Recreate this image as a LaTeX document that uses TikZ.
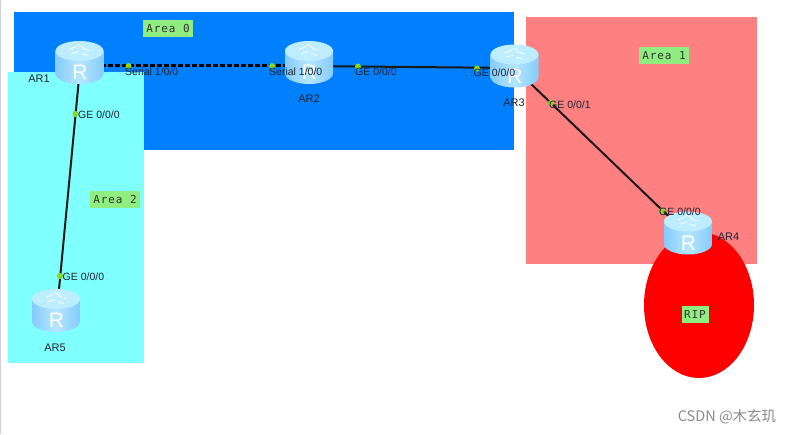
\documentclass[tikz,border=0pt]{standalone}
\usepackage{fontspec}
\setmainfont{Liberation Sans}
\newfontfamily\labelmono[LetterSpace=8]{DejaVu Sans Mono}
\newfontfamily\cjkfont{Noto Sans CJK SC}
\definecolor{areablue}{HTML}{0080FF}
\definecolor{areacyan}{HTML}{80FFFF}
\definecolor{areapink}{HTML}{FF8080}
\definecolor{labelgreen}{HTML}{90EE80}
\definecolor{portgreen}{HTML}{8CD620}
\definecolor{textdark}{HTML}{1C2430}
\definecolor{routerside}{HTML}{86CBFA}
\definecolor{routermid}{HTML}{B4E6FF}
\definecolor{routertop}{HTML}{BCEEFF}
\tikzset{
  x=1pt,y=-1pt,
  areabox/.style={draw=none,inner sep=0pt,anchor=north west},
  routerbox/.style={inner sep=0pt,minimum width=48pt,minimum height=43pt,draw=none},
  arealabel/.style={fill=labelgreen,inner sep=0pt,minimum height=17pt,text=black!80,font=\labelmono\fontsize{11}{12}\selectfont},
  portdot/.style={circle,fill=portgreen,inner sep=0pt,minimum size=6pt},
  portlabel/.style={text=textdark,font=\fontsize{10.5}{11}\selectfont,inner sep=0pt,anchor=west},
  devlabel/.style={text=textdark,font=\fontsize{11}{12}\selectfont,inner sep=0pt},
  linkline/.style={draw=black!90,line width=2pt},
  seriallink/.style={draw=black,line width=2.2pt,dash pattern=on 5pt off 2pt},
}
\newcommand{\routerart}[1]{%
  \begin{scope}[shift={(#1.center)}]
    \path[left color=routerside,right color=routerside,middle color=routermid]
      (-24,-12) -- (24,-12) -- (24,11) arc[start angle=0,end angle=180,x radius=24,y radius=10.5] -- cycle;
    \fill[routertop] (0,-11.5) ellipse[x radius=24,y radius=10];
    \draw[white,line width=1pt,opacity=.85] (-10,-13) -- (-3,-16) (-8,-9) -- (-1,-11) (3,-14) -- (10,-12) (2,-9) -- (8,-7) (-2,-18) -- (4,-15);
    \node[text=white,inner sep=0pt,font=\fontsize{21}{21}\selectfont] (#1art) at (0.5,10) {R};
  \end{scope}}
\begin{document}
\begin{tikzpicture}
\useasboundingbox (0,0) rectangle (792,434);
\fill[white] (0,0) rectangle (792,434);
\fill[gray!70!blue!30] (0,0) rectangle (1.2,434);
% areas
\node[areabox,fill=areablue,minimum width=500pt,minimum height=138pt] (area0) at (14,12) {};
\node[areabox,fill=areacyan,minimum width=136pt,minimum height=291pt] (area2) at (8,72) {};
\node[areabox,fill=areapink,minimum width=231pt,minimum height=247pt] (area1) at (526,17) {};
\fill[red] (699,305) ellipse[x radius=55,y radius=73];
% routers (anchors)
\node[routerbox] (ar1) at (79.5,62.5) {};
\node[routerbox] (ar2) at (309,62.5) {};
\node[routerbox] (ar3) at (514.5,66) {};
\node[routerbox] (ar4) at (688,233) {};
\node[routerbox] (ar5) at (56,310.5) {};
% links
\draw[seriallink] ([yshift=-3pt]ar1.center) -- ([yshift=-3pt]ar2.center);
\draw[linkline] ([yshift=-3.5pt]ar2.center) -- ([yshift=-2pt]ar3.center);
\draw[linkline] ([yshift=-2pt]ar3.center) -- ([yshift=-2pt]ar4.center);
\draw[linkline] ([xshift=1pt]ar1.center) -- ([xshift=1pt]ar5.center);
% router art
\routerart{ar1}\routerart{ar2}\routerart{ar3}\routerart{ar4}\routerart{ar5}
% port dots
\node[portdot] (p1) at (128.5,66) {};
\node[portdot] (p2) at (272,66) {};
\node[portdot] (p3) at (358,66.5) {};
\node[portdot] (p4) at (477,68.5) {};
\node[portdot] (p5) at (551,103) {};
\node[portdot] (p6) at (662,211) {};
\node[portdot] (p7) at (75.5,114) {};
\node[portdot] (p8) at (60,276) {};
% port labels
\node[portlabel] at (125,72) {Serial 1/0/0};
\node[portlabel] at (269,72) {Serial 1/0/0};
\node[portlabel] at (355,72) {GE 0/0/0};
\node[portlabel] at (473.5,73) {GE 0/0/0};
\node[portlabel] at (549,104.5) {GE 0/0/1};
\node[portlabel] at (659,211.5) {GE 0/0/0};
\node[portlabel] at (78,115) {GE 0/0/0};
\node[portlabel] at (62.5,276.5) {GE 0/0/0};
% device labels
\node[devlabel] at (39,78.5) {AR1};
\node[devlabel] at (309,99) {AR2};
\node[devlabel] at (514,102.5) {AR3};
\node[devlabel] at (728.5,236.5) {AR4};
\node[devlabel] at (55,347.5) {AR5};
% area labels
\node[arealabel,minimum width=50pt] at (168,28.5) {Area 0};
\node[arealabel,minimum width=50pt] at (664,55.5) {Area 1};
\node[arealabel,minimum width=50pt] at (115,199) {Area 2};
\node[arealabel,minimum width=27pt] at (695,314) {RIP};
% watermark
\node[text=black!45,inner sep=0pt,font=\cjkfont\fontsize{14.5}{16}\selectfont] at (727,417) {CSDN @木玄玑};
\end{tikzpicture}
\end{document}
